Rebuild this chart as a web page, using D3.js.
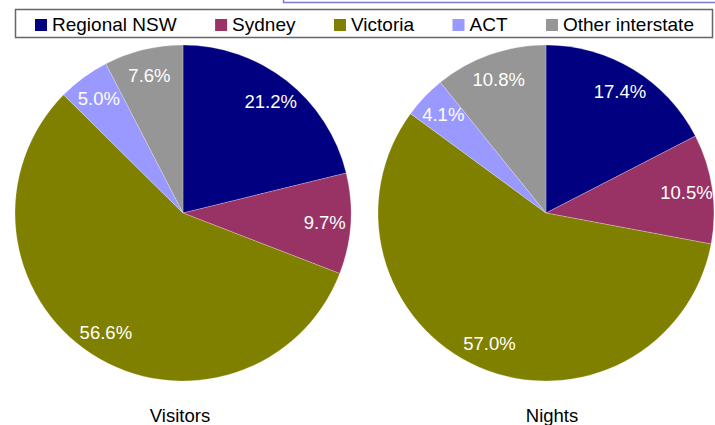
<html>
<head>
<script src="https://cdn.jsdelivr.net/npm/d3@7"></script>
<style>
  body { margin: 0; background: #fff; }
  text { font-family: "Liberation Sans", Arial, sans-serif; }
</style>
</head>
<body>
<div id="chart"></div>
<script>

// data
const categories = ["Regional NSW", "Sydney", "Victoria", "ACT", "Other interstate"];
const visitors = [21.2, 9.7, 56.6, 5.0, 7.6];
const nights = [17.4, 10.5, 57.0, 4.1, 10.8];
const pieTitles = ["Visitors", "Nights"];

const colors = ["#000080", "#993366", "#808000", "#9999ff", "#969696"];

const width = 715, height = 425;
const radius = 168;
const labelRadius = 142;
const fontSize = "18.5px";

const svg = d3.select("#chart")
  .append("svg")
    .attr("width", width)
    .attr("height", height);

// the thin frame peeking in at the top right
svg.append("path")
    .attr("d", "M283.5,0 V2.5 H715")
    .attr("fill", "none")
    .attr("stroke", "#7b7bc6")
    .attr("stroke-width", 1.5);

const color = d3.scaleOrdinal().domain(categories).range(colors);

// legend
const legend = svg.append("g");
legend.append("rect")
    .attr("x", 15.5).attr("y", 9.5)
    .attr("width", 697).attr("height", 28)
    .attr("fill", "#fff")
    .attr("stroke", "#666")
    .attr("stroke-width", 1.5);

let lx = 35;
categories.forEach(function(c) {
  legend.append("rect")
      .attr("x", lx).attr("y", 19)
      .attr("width", 12).attr("height", 12)
      .attr("fill", color(c));
  const t = legend.append("text")
      .attr("x", lx + 17).attr("y", 31)
      .style("font-size", "19px")
      .attr("fill", "#000")
      .text(c);
  lx += 17 + t.node().getComputedTextLength() + 38.5;
});

// pies
const pie = d3.pie().sort(null).value(function(d) { return d; });
const arc = d3.arc().innerRadius(0).outerRadius(radius);
const labelArc = d3.arc().innerRadius(labelRadius).outerRadius(labelRadius);

const centres = [[183, 213], [546, 213]];
const titleX = [180, 552];

[visitors, nights].forEach(function(series, i) {
  const g = svg.append("g")
      .attr("transform", `translate(${centres[i][0]},${centres[i][1]})`);

  const arcs = pie(series);

  g.selectAll("path")
    .data(arcs)
    .join("path")
      .attr("d", arc)
      .attr("fill", function(d, j) { return color(categories[j]); })
      .attr("stroke", "#fff")
      .attr("stroke-width", 0.4)
      .attr("stroke-opacity", 0.6);

  g.selectAll("text")
    .data(arcs)
    .join("text")
      .attr("transform", function(d) { return `translate(${labelArc.centroid(d)})`; })
      .attr("text-anchor", "middle")
      .attr("dy", "0.35em")
      .style("font-size", fontSize)
      .attr("fill", "#fff")
      .text(function(d) { return d3.format(".1f")(d.data) + "%"; });

  svg.append("text")
      .attr("x", titleX[i]).attr("y", 422)
      .attr("text-anchor", "middle")
      .style("font-size", fontSize)
      .attr("fill", "#000")
      .text(pieTitles[i]);
});

</script>
</body>
</html>
